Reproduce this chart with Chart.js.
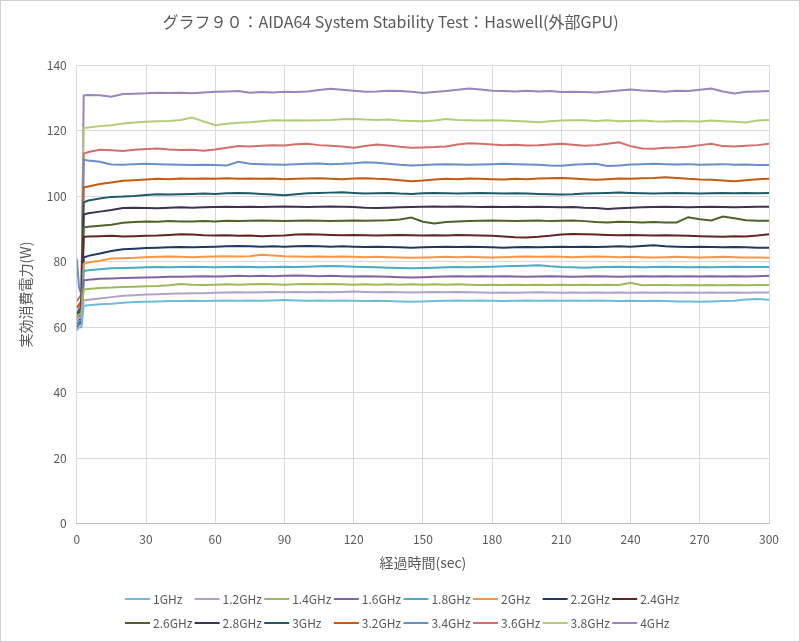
<!DOCTYPE html>
<html>
<head>
<meta charset="utf-8">
<script src="https://cdn.jsdelivr.net/npm/chart.js@4"></script>
<style>
  html, body { margin: 0; padding: 0; background: #fff; }
  #wrap { width: 800px; height: 642px; box-sizing: border-box; border: 1px solid #cfcfcf; }
  canvas { display: block; }
</style>
</head>
<body>
<div id="wrap"><canvas id="chart" width="798" height="640"></canvas></div>
<script>
// 経過時間 (sec)
const times = [0, 1, 2, 3,
  5, 10, 15, 20, 25, 30, 35, 40, 45, 50,
  55, 60, 65, 70, 75, 80, 85, 90, 95, 100,
  105, 110, 115, 120, 125, 130, 135, 140, 145, 150,
  155, 160, 165, 170, 175, 180, 185, 190, 195, 200,
  205, 210, 215, 220, 225, 230, 235, 240, 245, 250,
  255, 260, 265, 270, 275, 280, 285, 290, 295, 300];

const xTicks = [0, 30, 60, 90, 120, 150, 180, 210, 240, 270, 300];
const yTicks = [0, 20, 40, 60, 80, 100, 120, 140];

const seriesNames = ["1GHz", "1.2GHz", "1.4GHz", "1.6GHz", "1.8GHz", "2GHz", "2.2GHz", "2.4GHz",
  "2.6GHz", "2.8GHz", "3GHz", "3.2GHz", "3.4GHz", "3.6GHz", "3.8GHz", "4GHz"];

const seriesColors = ["#70BCD8", "#B3A2C7", "#9BBB59", "#8064A2", "#4BACC6", "#F79646", "#1F3A60", "#632523",
  "#4F6228", "#3F3151", "#215967", "#C55A11", "#6A8FC5", "#D26F6C", "#B2CD7A", "#9A84BB"];

// 実効消費電力 (W)
const w1_0 = [59, 60, 60, 66.5,
  66.7, 67.0, 67.2, 67.5, 67.7, 67.8, 67.9, 68.0, 68.0, 68.1,
  68.0, 68.1, 68.2, 68.1, 68.2, 68.1, 68.2, 68.3, 68.2, 68.1,
  68.2, 68.1, 68.2, 68.1, 68.0, 68.1, 68.0, 67.9, 67.8, 67.9,
  68.0, 68.1, 68.2, 68.1, 68.2, 68.1, 68.0, 68.1, 68.2, 68.1,
  68.2, 68.1, 68.2, 68.1, 68.2, 68.1, 68.0, 68.1, 68.0, 68.1,
  68.0, 67.9, 67.9, 67.8, 67.9, 68.0, 68.1, 68.5, 68.6, 68.4];
const w1_2 = [62, 63, 63, 68.2,
  68.4, 68.8, 69.2, 69.6, 69.8, 70.0, 70.1, 70.2, 70.3, 70.4,
  70.4, 70.5, 70.6, 70.7, 70.6, 70.7, 70.8, 70.7, 70.8, 70.7,
  70.8, 70.7, 70.8, 70.9, 70.8, 70.7, 70.8, 70.7, 70.6, 70.7,
  70.8, 70.7, 70.8, 70.7, 70.6, 70.5, 70.6, 70.5, 70.6, 70.7,
  70.6, 70.5, 70.6, 70.5, 70.6, 70.5, 70.6, 70.5, 70.6, 70.5,
  70.6, 70.5, 70.6, 70.5, 70.6, 70.5, 70.6, 70.5, 70.6, 70.6];
const w1_4 = [63, 64, 64, 71.5,
  71.7, 72.0, 72.1, 72.3, 72.4, 72.5, 72.6, 72.8, 73.2, 73.0,
  72.9, 73.0, 73.1, 73.0, 73.1, 73.2, 73.1, 73.0, 73.1, 73.2,
  73.1, 73.2, 73.1, 73.0, 73.1, 73.0, 73.1, 73.0, 73.1, 73.0,
  73.1, 73.0, 73.1, 73.0, 72.9, 73.0, 72.9, 73.0, 72.9, 73.0,
  72.9, 73.0, 72.9, 73.0, 72.9, 73.0, 72.9, 73.6, 72.8, 72.9,
  72.9, 72.8, 72.9, 72.8, 72.9, 72.8, 72.9, 72.8, 72.9, 72.9];
const w1_6 = [60, 61, 61, 74.3,
  74.5, 74.8, 74.9, 75.0, 75.1, 75.2, 75.3, 75.4, 75.4, 75.5,
  75.6, 75.5, 75.6, 75.7, 75.6, 75.7, 75.6, 75.7, 75.8, 75.7,
  75.6, 75.7, 75.6, 75.5, 75.6, 75.5, 75.4, 75.3, 75.2, 75.3,
  75.4, 75.5, 75.6, 75.5, 75.6, 75.5, 75.6, 75.5, 75.4, 75.5,
  75.6, 75.5, 75.4, 75.5, 75.6, 75.5, 75.4, 75.5, 75.6, 75.5,
  75.6, 75.5, 75.6, 75.5, 75.6, 75.5, 75.6, 75.5, 75.6, 75.7];
const w1_8 = [61, 62, 62, 77.2,
  77.4, 77.7, 78.0, 78.1, 78.2, 78.3, 78.4, 78.3, 78.4, 78.5,
  78.4, 78.3, 78.4, 78.5, 78.4, 78.3, 78.4, 78.5, 78.4, 78.5,
  78.6, 78.7, 78.6, 78.5, 78.4, 78.3, 78.2, 78.1, 78.0, 78.1,
  78.2, 78.3, 78.4, 78.3, 78.4, 78.5, 78.6, 78.7, 78.8, 78.9,
  78.6, 78.4, 78.3, 78.2, 78.3, 78.4, 78.5, 78.4, 78.3, 78.4,
  78.5, 78.4, 78.3, 78.4, 78.3, 78.4, 78.5, 78.4, 78.4, 78.4];
const w2_0 = [62, 63, 63, 79.4,
  79.8, 80.3, 81.0, 81.1, 81.2, 81.4, 81.5, 81.6, 81.5, 81.4,
  81.5, 81.6, 81.7, 81.6, 81.7, 82.1, 81.9, 81.7, 81.6, 81.5,
  81.6, 81.5, 81.6, 81.5, 81.4, 81.5, 81.4, 81.3, 81.2, 81.3,
  81.4, 81.5, 81.4, 81.5, 81.4, 81.3, 81.4, 81.5, 81.6, 81.5,
  81.6, 81.5, 81.4, 81.5, 81.6, 81.5, 81.4, 81.5, 81.4, 81.3,
  81.4, 81.5, 81.4, 81.3, 81.4, 81.5, 81.4, 81.3, 81.3, 81.2];
const w2_2 = [60, 61, 62, 81.3,
  81.8, 82.5, 83.3, 83.8, 84.0, 84.2, 84.3, 84.4, 84.5, 84.4,
  84.5, 84.6, 84.7, 84.8, 84.7, 84.6, 84.7, 84.6, 84.7, 84.8,
  84.7, 84.6, 84.7, 84.6, 84.5, 84.6, 84.5, 84.4, 84.3, 84.4,
  84.5, 84.6, 84.5, 84.6, 84.5, 84.4, 84.3, 84.4, 84.5, 84.4,
  84.5, 84.6, 84.5, 84.6, 84.5, 84.6, 84.7, 84.6, 84.8, 85.0,
  84.7, 84.6, 84.5, 84.6, 84.5, 84.4, 84.5, 84.4, 84.3, 84.3];
const w2_4 = [61, 62, 63, 87.6,
  87.7, 87.8, 87.9, 87.7, 87.8, 87.9, 88.0, 88.2, 88.4, 88.3,
  88.1, 88.0, 88.1, 87.9, 88.0, 87.8, 87.9, 88.0, 88.3, 88.4,
  88.3, 88.2, 88.1, 88.2, 88.1, 88.0, 88.1, 88.2, 88.1, 88.0,
  88.1, 88.0, 88.2, 88.1, 88.0, 87.9, 87.7, 87.5, 87.4, 87.6,
  87.9, 88.3, 88.5, 88.4, 88.3, 88.2, 88.1, 88.2, 88.1, 88.0,
  88.1, 88.0, 87.9, 87.8, 87.7, 87.6, 87.8, 87.7, 88.0, 88.4];
const w2_6 = [62, 63, 64, 90.5,
  90.7, 91.0, 91.3, 91.9, 92.1, 92.3, 92.2, 92.4, 92.3, 92.3,
  92.4, 92.3, 92.5, 92.4, 92.5, 92.6, 92.5, 92.4, 92.5, 92.6,
  92.5, 92.4, 92.5, 92.6, 92.5, 92.6, 92.7, 92.9, 93.5, 92.2,
  91.7, 92.1, 92.3, 92.4, 92.5, 92.6, 92.5, 92.4, 92.5, 92.6,
  92.4, 92.5, 92.6, 92.4, 92.1, 92.0, 92.2, 92.1, 92.0, 92.1,
  92.0, 92.0, 93.6, 93.0, 92.6, 93.8, 93.3, 92.7, 92.5, 92.5];
const w2_8 = [63, 64, 65, 94.4,
  94.8, 95.3, 95.8, 96.4, 96.5, 96.4, 96.3, 96.5, 96.6, 96.5,
  96.6, 96.7, 96.8, 96.7, 96.8, 96.7, 96.8, 96.9, 96.8, 96.7,
  96.8, 96.9, 96.8, 96.7, 96.5, 96.4, 96.5, 96.6, 96.7, 96.8,
  96.9, 96.8, 96.9, 96.8, 96.7, 96.8, 96.7, 96.8, 96.7, 96.8,
  96.7, 96.6, 96.7, 96.5, 96.4, 96.1, 96.3, 96.5, 96.6, 96.7,
  96.8, 96.7, 96.6, 96.7, 96.8, 96.7, 96.6, 96.7, 96.8, 96.8];
const w3_0 = [64, 65, 66, 98.1,
  98.7, 99.3, 99.8, 99.9, 100.1, 100.4, 100.6, 100.5, 100.6, 100.7,
  100.8, 100.7, 100.9, 101.0, 100.9, 100.7, 100.5, 100.3, 100.6, 100.9,
  101.0, 101.1, 101.2, 101.0, 100.8, 100.9, 101.0, 100.8, 100.7, 100.9,
  101.0, 100.9, 100.8, 100.9, 101.0, 100.9, 100.8, 100.9, 100.8, 100.7,
  100.6, 100.5, 100.6, 100.8, 100.9, 101.0, 101.1, 101.0, 100.9, 100.8,
  100.9, 101.0, 100.9, 100.8, 100.9, 101.0, 100.9, 101.0, 100.9, 101.0];
const w3_2 = [66, 67, 68, 102.7,
  103.0, 103.7, 104.2, 104.7, 104.9, 105.1, 105.3, 105.2, 105.4, 105.3,
  105.4, 105.3, 105.5, 105.3, 105.4, 105.3, 105.4, 105.2, 105.3, 105.4,
  105.5, 105.3, 105.2, 105.4, 105.5, 105.3, 105.2, 104.9, 104.6, 104.8,
  105.1, 105.3, 105.2, 105.4, 105.3, 105.2, 105.1, 105.3, 105.2, 105.4,
  105.5, 105.6, 105.4, 105.2, 105.0, 105.2, 105.4, 105.3, 105.5, 105.6,
  105.8, 105.6, 105.3, 105.1, 105.0, 104.8, 104.6, 104.9, 105.2, 105.3];
const w3_4 = [81, 72, 70, 111.1,
  110.9, 110.5, 109.7, 109.6, 109.8, 109.9, 109.8, 109.7, 109.6, 109.5,
  109.6, 109.5, 109.4, 110.5, 109.9, 109.8, 109.7, 109.6, 109.8, 109.9,
  110.0, 109.8, 109.9, 110.1, 110.4, 110.2, 109.9, 109.6, 109.4, 109.5,
  109.7, 109.8, 109.7, 109.6, 109.7, 109.8, 109.9, 109.8, 109.7, 109.6,
  109.4, 109.3, 109.6, 109.8, 109.9, 109.2, 109.4, 109.7, 109.8, 109.9,
  109.8, 109.7, 109.8, 109.6, 109.7, 109.8, 109.6, 109.7, 109.5, 109.5];
const w3_6 = [68, 69, 70, 113.0,
  113.5, 114.2, 114.0, 113.8, 114.2, 114.4, 114.6, 114.3, 114.1, 114.2,
  113.9, 114.3, 114.8, 115.3, 115.2, 115.4, 115.6, 115.5, 115.9, 116.0,
  115.6, 115.4, 115.2, 114.8, 115.3, 115.8, 115.5, 115.1, 114.8, 114.9,
  115.0, 115.2, 115.8, 116.2, 116.0, 115.8, 115.6, 115.7, 115.5, 115.6,
  115.8, 116.0, 115.7, 115.4, 115.6, 116.0, 116.5, 115.3, 114.6, 114.5,
  114.8, 114.9, 115.1, 115.6, 116.0, 115.3, 115.2, 115.4, 115.6, 116.0];
const w3_8 = [62, 63, 65, 120.8,
  121.0, 121.4, 121.7, 122.2, 122.5, 122.7, 122.9, 123.0, 123.3, 124.0,
  122.8, 121.7, 122.1, 122.4, 122.6, 122.9, 123.2, 123.1, 123.2, 123.1,
  123.2, 123.3, 123.5, 123.6, 123.4, 123.3, 123.4, 123.1, 123.0, 122.9,
  123.1, 123.6, 123.3, 123.2, 123.1, 123.2, 123.1, 123.0, 122.8, 122.6,
  122.9, 123.1, 123.2, 123.2, 123.0, 123.2, 122.9, 123.0, 123.1, 122.9,
  122.8, 123.0, 122.9, 122.8, 123.1, 122.9, 122.7, 122.5, 123.1, 123.3];
const w4_0 = [64, 66, 68, 130.8,
  130.9, 130.8, 130.4, 131.2, 131.3, 131.4, 131.6, 131.5, 131.6, 131.4,
  131.7, 131.9, 132.0, 132.1, 131.6, 131.8, 131.7, 131.9, 131.8, 132.0,
  132.4, 132.8, 132.5, 132.2, 131.9, 132.0, 132.2, 132.1, 131.9, 131.5,
  131.8, 132.1, 132.5, 132.9, 132.6, 132.2, 132.1, 132.0, 132.2, 132.0,
  132.1, 131.8, 131.9, 131.8, 131.7, 132.0, 132.3, 132.6, 132.3, 132.1,
  131.9, 132.2, 132.1, 132.5, 132.9, 132.0, 131.4, 131.9, 132.0, 132.1];

const seriesValues = [w1_0, w1_2, w1_4, w1_6, w1_8, w2_0, w2_2, w2_4,
  w2_6, w2_8, w3_0, w3_2, w3_4, w3_6, w3_8, w4_0];

const FONT = "'Noto Sans CJK JP', 'Noto Sans', sans-serif";
const TEXT = "#595959";
Chart.defaults.font.family = FONT;
Chart.defaults.color = TEXT;

// 凡例 (Excel風に固定幅の列で2段)
const gridLegend = {
  id: "gridLegend",
  afterDraw(chart) {
    const ctx = chart.ctx;
    ctx.save();
    ctx.font = "12px " + FONT;
    ctx.textBaseline = "middle";
    ctx.fillStyle = TEXT;
    chart.data.datasets.forEach((ds, i) => {
      const col = i % 8;
      const row = Math.floor(i / 8);
      const x = 124 + col * 69.6;
      const y = 598 + row * 24;
      ctx.strokeStyle = ds.borderColor;
      ctx.lineWidth = 2;
      ctx.beginPath();
      ctx.moveTo(x, y);
      ctx.lineTo(x + 25, y);
      ctx.stroke();
      ctx.fillText(ds.label, x + 28, y);
    });
    ctx.restore();
  }
};

const ctx = document.getElementById("chart").getContext("2d");
new Chart(ctx, {
  type: "line",
  data: {
    datasets: seriesNames.map((name, i) => ({
      label: name,
      data: times.map((t, j) => ({ x: t, y: seriesValues[i][j] })),
      borderColor: seriesColors[i],
      backgroundColor: seriesColors[i],
      borderWidth: 2,
      pointRadius: 0,
      tension: 0,
      fill: false
    }))
  },
  options: {
    responsive: false,
    animation: false,
    devicePixelRatio: 1,
    layout: { padding: { left: 11, right: 30, top: 0, bottom: 70 } },
    plugins: {
      legend: { display: false },
      tooltip: { enabled: false },
      title: {
        display: true,
        text: "グラフ９０：AIDA64 System Stability Test：Haswell(外部GPU)",
        color: TEXT,
        font: { size: 16, weight: "normal" },
        padding: { top: 11, bottom: 34 }
      }
    },
    scales: {
      x: {
        type: "linear",
        min: 0,
        max: 300,
        afterBuildTicks: axis => { axis.ticks = xTicks.map(v => ({ value: v })); },
        ticks: { padding: 8, font: { size: 12 }, color: TEXT },
        grid: { color: "#d9d9d9", drawTicks: false },
        border: { color: "#bfbfbf" },
        title: { display: true, text: "経過時間(sec)", font: { size: 14 }, color: TEXT, padding: { top: 0, bottom: 0 } }
      },
      y: {
        min: 0,
        max: 140,
        afterBuildTicks: axis => { axis.ticks = yTicks.map(v => ({ value: v })); },
        ticks: { padding: 10, font: { size: 12 }, color: TEXT },
        grid: { color: "#d9d9d9", drawTicks: false },
        border: { display: false },
        title: { display: true, text: "実効消費電力(W)", font: { size: 14 }, color: TEXT, padding: { top: 5, bottom: 3 } }
      }
    }
  },
  plugins: [gridLegend]
});
</script>
</body>
</html>
